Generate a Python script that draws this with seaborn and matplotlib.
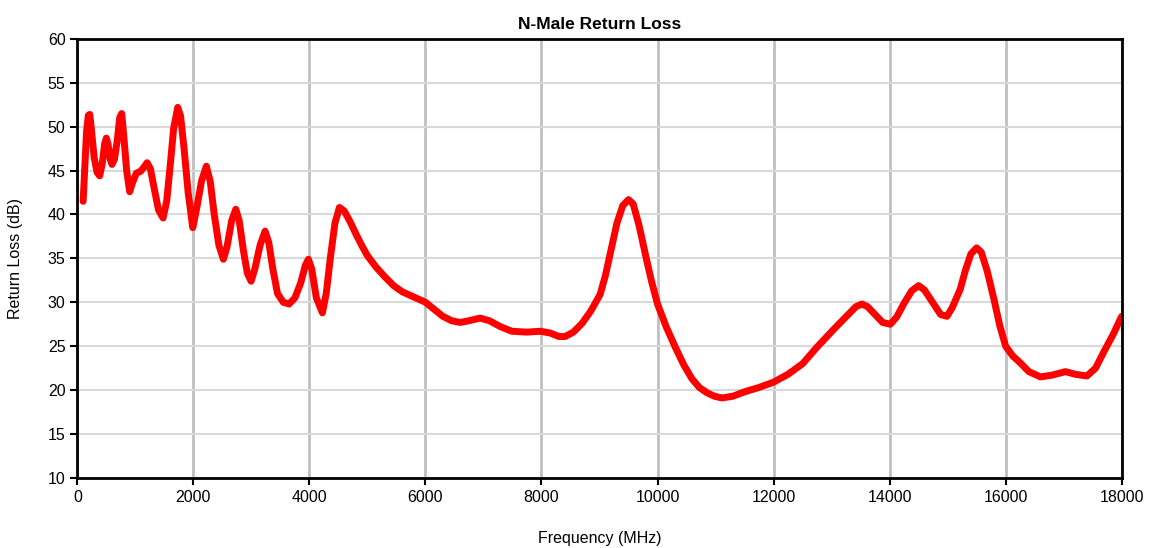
import numpy as np
import pandas as pd
import seaborn as sns
import matplotlib
matplotlib.use('Agg')
import matplotlib.pyplot as plt

# values
freq_mhz = [100, 130, 160, 190, 215, 245, 290, 340, 386, 430, 470, 500, 530, 570, 598,
            640, 690, 730, 765, 800, 850, 903, 950, 1017, 1086, 1150, 1202, 1260, 1330,
            1400, 1478, 1540, 1600, 1660, 1731, 1780, 1840, 1910, 1990, 2060, 2140, 2224,
            2290, 2360, 2440, 2517, 2580, 2660, 2731, 2790, 2860, 2930, 2995, 3060, 3150,
            3236, 3300, 3370, 3450, 3550, 3650, 3750, 3850, 3930, 3983, 4040, 4120, 4224,
            4290, 4360, 4440, 4517, 4600, 4700, 4800, 4900, 5000, 5150, 5300, 5450, 5600,
            5800, 6000, 6150, 6300, 6450, 6600, 6750, 6943, 7100, 7300, 7489, 7750, 7977,
            8150, 8300, 8408, 8550, 8700, 8850, 9011, 9100, 9200, 9300, 9400, 9500, 9580,
            9680, 9816, 9900, 10000, 10150, 10305, 10450, 10592, 10720, 10850, 10980,
            11110, 11300, 11500, 11750, 12000, 12250, 12500, 12750, 13034, 13300, 13420,
            13523, 13620, 13750, 13880, 14012, 14120, 14250, 14380, 14500, 14600, 14750,
            14880, 14989, 15080, 15218, 15300, 15400, 15500, 15580, 15680, 15800, 15900,
            16000, 16120, 16252, 16400, 16600, 16800, 17030, 17200, 17400, 17550, 17688,
            17850, 18000]
return_loss = [41.5, 45.5, 49.5, 51.3, 51.4, 49.5, 46.5, 44.8, 44.4, 45.8, 48.0, 48.7, 48.0, 46.2, 45.7,
               46.3, 48.5, 51.0, 51.5, 49.0, 45.0, 42.6, 43.6, 44.7, 44.9, 45.4, 45.9, 45.2, 42.8,
               40.5, 39.6, 41.5, 45.5, 49.8, 52.2, 51.2, 47.5, 42.5, 38.5, 40.8, 43.8, 45.5,
               43.8, 40.0, 36.5, 34.9, 36.3, 39.3, 40.6, 39.3, 36.0, 33.3, 32.4, 33.8, 36.5,
               38.1, 36.8, 33.8, 31.0, 30.0, 29.8, 30.5, 32.2, 34.2, 34.9, 33.8, 30.5, 28.8,
               31.0, 35.0, 39.0, 40.8, 40.4, 39.2, 37.8, 36.5, 35.3, 34.0, 32.9, 31.9, 31.2,
               30.6, 30.0, 29.2, 28.4, 27.9, 27.7, 27.9, 28.2, 27.9, 27.2, 26.7, 26.6, 26.7,
               26.5, 26.1, 26.1, 26.6, 27.6, 29.0, 30.9, 33.0, 36.0, 39.0, 41.0, 41.7, 41.2,
               38.8, 34.7, 32.3, 29.8, 27.2, 24.9, 22.9, 21.3, 20.3, 19.7, 19.3,
               19.1, 19.3, 19.8, 20.3, 20.9, 21.8, 23.0, 24.9, 26.9, 28.7, 29.5,
               29.8, 29.5, 28.6, 27.7, 27.5, 28.3, 29.9, 31.3, 31.9, 31.4, 29.9,
               28.6, 28.4, 29.4, 31.5, 33.5, 35.5, 36.2, 35.7, 33.6, 30.3, 27.3,
               25.0, 23.9, 23.1, 22.1, 21.5, 21.7, 22.1, 21.8, 21.6, 22.5, 24.3,
               26.3, 28.4]

df = pd.DataFrame({'freq': freq_mhz, 'rl': return_loss})

sns.set_style('white')
plt.rcParams['font.family'] = ['Liberation Sans', 'DejaVu Sans']
plt.rcParams['text.color'] = 'black'
plt.rcParams['axes.labelcolor'] = 'black'
plt.rcParams['xtick.color'] = 'black'
plt.rcParams['ytick.color'] = 'black'

fig = plt.figure(figsize=(11.54, 5.48), dpi=100)
ax = fig.add_axes([0.067, 0.128, 0.905, 0.801])

sns.lineplot(data=df, x='freq', y='rl', color='#ff0000', linewidth=5,
             solid_joinstyle='round', solid_capstyle='round', ax=ax)

ax.set_xlim(0, 18000)
ax.set_ylim(10, 60)
ax.set_xticks(np.arange(0, 18001, 2000))
ax.set_yticks(np.arange(10, 61, 5))
ax.yaxis.grid(True, color='#d9d9d9', linewidth=1.5)
ax.xaxis.grid(True, color='#c0c0c0', linewidth=2.0)
ax.set_axisbelow(True)
for spine in ax.spines.values():
    spine.set_visible(True)
    spine.set_color('black')
    spine.set_linewidth(2)
ax.tick_params(axis='both', direction='out', length=5, width=1.5, color='black',
               labelsize=11.5, labelcolor='black', bottom=True, left=True)

ax.set_title('N-Male Return Loss', fontsize=12.5, fontweight='bold', pad=7, color='black')
ax.set_xlabel('Frequency (MHz)', fontsize=11.5, labelpad=19)
ax.set_ylabel('Return Loss (dB)', fontsize=11.5, labelpad=18)

fig.savefig('out.png', dpi=100, facecolor='white')
